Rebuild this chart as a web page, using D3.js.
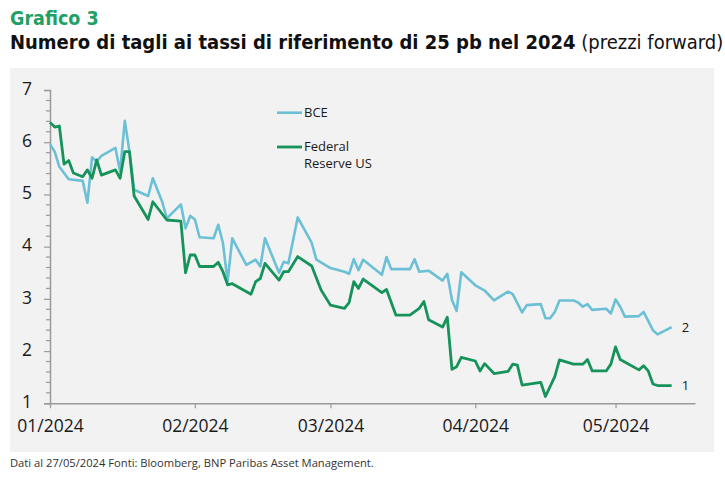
<!DOCTYPE html>
<html>
<head>
<meta charset="utf-8">
<script src="https://cdn.jsdelivr.net/npm/d3@7"></script>
<style>
  body { margin: 0; background: #fff; }
  svg { display: block; }
</style>
</head>
<body>
<main></main>
<script>
// data
const bceDates = ["2024-01-01","2024-01-02","2024-01-03","2024-01-05","2024-01-08","2024-01-09","2024-01-10","2024-01-11","2024-01-12","2024-01-15","2024-01-16","2024-01-17","2024-01-18","2024-01-19","2024-01-22","2024-01-23","2024-01-25","2024-01-26","2024-01-29","2024-01-30","2024-01-31","2024-02-01","2024-02-02","2024-02-05","2024-02-06","2024-02-07","2024-02-08","2024-02-09","2024-02-12","2024-02-14","2024-02-15","2024-02-16","2024-02-19","2024-02-20","2024-02-21","2024-02-23","2024-02-26","2024-02-27","2024-03-01","2024-03-04","2024-03-05","2024-03-06","2024-03-07","2024-03-08","2024-03-12","2024-03-13","2024-03-14","2024-03-18","2024-03-19","2024-03-20","2024-03-22","2024-03-25","2024-03-26","2024-03-27","2024-03-28","2024-03-29","2024-04-01","2024-04-03","2024-04-05","2024-04-08","2024-04-09","2024-04-11","2024-04-12","2024-04-15","2024-04-16","2024-04-17","2024-04-18","2024-04-19","2024-04-22","2024-04-23","2024-04-24","2024-04-25","2024-04-26","2024-04-29","2024-04-30","2024-05-01","2024-05-02","2024-05-03","2024-05-06","2024-05-07","2024-05-09","2024-05-10","2024-05-13"];
const bceValues = [5.96,5.82,5.53,5.29,5.26,4.84,5.71,5.63,5.74,5.89,5.44,6.41,5.82,5.09,4.97,5.31,4.86,4.54,4.81,4.35,4.59,4.52,4.18,4.16,4.42,4.07,3.33,4.16,3.65,3.75,3.62,4.16,3.50,3.71,3.68,4.56,4.07,3.75,3.59,3.52,3.48,3.76,3.55,3.75,3.46,3.80,3.57,3.57,3.76,3.52,3.54,3.35,3.48,2.98,2.77,3.51,3.26,3.16,2.97,3.14,3.09,2.74,2.88,2.90,2.63,2.63,2.75,2.97,2.97,2.93,2.85,2.90,2.79,2.81,2.72,2.99,2.85,2.66,2.67,2.75,2.40,2.32,2.46];

const fedDates = ["2024-01-01","2024-01-02","2024-01-03","2024-01-04","2024-01-05","2024-01-06","2024-01-08","2024-01-09","2024-01-10","2024-01-11","2024-01-12","2024-01-15","2024-01-16","2024-01-17","2024-01-18","2024-01-19","2024-01-22","2024-01-23","2024-01-26","2024-01-29","2024-01-30","2024-01-31","2024-02-01","2024-02-02","2024-02-05","2024-02-06","2024-02-07","2024-02-08","2024-02-09","2024-02-13","2024-02-14","2024-02-15","2024-02-16","2024-02-19","2024-02-20","2024-02-21","2024-02-23","2024-02-26","2024-02-28","2024-03-01","2024-03-04","2024-03-05","2024-03-06","2024-03-07","2024-03-08","2024-03-12","2024-03-13","2024-03-15","2024-03-18","2024-03-20","2024-03-21","2024-03-22","2024-03-25","2024-03-26","2024-03-27","2024-03-28","2024-03-29","2024-04-01","2024-04-02","2024-04-03","2024-04-05","2024-04-08","2024-04-09","2024-04-10","2024-04-11","2024-04-15","2024-04-16","2024-04-18","2024-04-19","2024-04-22","2024-04-24","2024-04-25","2024-04-26","2024-04-29","2024-04-30","2024-05-01","2024-05-02","2024-05-06","2024-05-07","2024-05-08","2024-05-09","2024-05-10","2024-05-13"];
const fedValues = [6.38,6.29,6.31,5.58,5.65,5.41,5.34,5.47,5.31,5.66,5.37,5.47,5.31,5.82,5.82,4.97,4.52,4.86,4.51,4.49,3.50,3.84,3.84,3.62,3.62,3.70,3.52,3.27,3.29,3.09,3.33,3.39,3.68,3.36,3.52,3.52,3.81,3.63,3.17,2.88,2.82,2.93,3.33,3.20,3.38,3.12,3.18,2.69,2.69,2.82,2.95,2.60,2.46,2.65,1.65,1.70,1.88,1.81,1.62,1.76,1.57,1.61,1.75,1.73,1.35,1.40,1.13,1.51,1.83,1.75,1.75,1.84,1.62,1.62,1.75,2.08,1.84,1.64,1.72,1.62,1.37,1.34,1.34];

const yTicks = [1, 2, 3, 4, 5, 6, 7];
const monthTicks = ["2024-01-01","2024-02-01","2024-03-01","2024-04-01","2024-05-01"];
const monthLabels = ["01/2024","02/2024","03/2024","04/2024","05/2024"];
const endLabels = ["2", "1"];

const parse = d3.timeParse("%Y-%m-%d");
const bce = bceDates.map((d, i) => ({date: parse(d), value: bceValues[i]}));
const fed = fedDates.map((d, i) => ({date: parse(d), value: fedValues[i]}));

const width = 725, height = 478;
const blue = "#6cc0d5", green = "#16935a";

const svg = d3.select("main").append("svg")
  .attr("width", width)
  .attr("height", height)
  .style("font-family", "'Open Sans', sans-serif");

// titles
svg.append("text")
  .attr("x", 10).attr("y", 25)
  .attr("fill", "#22a064")
  .style("font-family", "'DejaVu Sans Condensed', sans-serif")
  .style("font-weight", "bold")
  .style("font-size", "19.5px")
  .text("Grafico 3");

const sub = svg.append("text")
  .attr("x", 10).attr("y", 49)
  .attr("fill", "#111")
  .style("font-family", "'DejaVu Sans Condensed', sans-serif")
  .style("font-size", "20px");
sub.append("tspan").style("font-weight", "bold")
  .text("Numero di tagli ai tassi di riferimento di 25 pb nel 2024");
sub.append("tspan").text(" (prezzi forward)");

// panel
svg.append("rect")
  .attr("x", 10).attr("y", 68)
  .attr("width", 704).attr("height", 384)
  .attr("fill", "#f2f2f2");

const xScale = d3.scaleTime()
  .domain([parse("2024-01-01"), parse("2024-05-18")])
  .range([50, 695]);

const yScale = d3.scaleLinear()
  .domain([1, 7])
  .range([403.3, 90]);

// y axis
const yAxis = svg.append("g")
  .attr("transform", "translate(50,0)")
  .call(d3.axisLeft(yScale).tickValues(yTicks).tickFormat(d3.format("d")).tickSize(6).tickPadding(12));
yAxis.select(".domain").attr("stroke", "#9a9a9a").attr("stroke-width", 1.5);
yAxis.selectAll(".tick line").attr("stroke", "#9a9a9a").attr("stroke-width", 1.2);
yAxis.selectAll(".tick text")
  .attr("fill", "#1a1a1a")
  .attr("dy", "0.24em")
  .style("font-size", "17.5px")
  .style("font-family", "'Open Sans', sans-serif");

// minor ticks
const minor = d3.range(1, 7.001, 0.2).filter(v => Math.abs(v - Math.round(v)) > 0.01);
svg.append("g")
  .selectAll("line")
  .data(minor)
  .enter()
  .append("line")
  .attr("x1", 46).attr("x2", 50)
  .attr("y1", d => yScale(d)).attr("y2", d => yScale(d))
  .attr("stroke", "#9a9a9a")
  .attr("stroke-width", 1.2);

// x axis
const xAxis = svg.append("g")
  .attr("transform", "translate(0," + yScale(1) + ")")
  .call(d3.axisBottom(xScale)
    .tickValues(monthTicks.map(parse))
    .tickFormat((d, i) => monthLabels[i])
    .tickSize(5).tickPadding(11).tickSizeOuter(0));
xAxis.select(".domain").attr("stroke", "#9a9a9a").attr("stroke-width", 1.5);
xAxis.selectAll(".tick line").attr("stroke", "#9a9a9a").attr("stroke-width", 1.2);
xAxis.selectAll(".tick text")
  .attr("fill", "#1a1a1a")
  .style("font-size", "17.5px")
  .style("font-family", "'Open Sans', sans-serif");

// lines
const line = d3.line()
  .x(d => xScale(d.date))
  .y(d => yScale(d.value));

svg.append("path")
  .datum(bce)
  .attr("fill", "none")
  .attr("stroke", blue)
  .attr("stroke-width", 2.6)
  .attr("stroke-linejoin", "round")
  .attr("d", line);

svg.append("path")
  .datum(fed)
  .attr("fill", "none")
  .attr("stroke", green)
  .attr("stroke-width", 2.8)
  .attr("stroke-linejoin", "round")
  .attr("d", line);

// end labels
[bce, fed].forEach((s, i) => {
  const last = s[s.length - 1];
  svg.append("text")
    .attr("x", xScale(last.date) + 10)
    .attr("y", yScale(last.value))
    .attr("dy", "0.35em")
    .attr("fill", "#1a1a1a")
    .style("font-size", "13px")
    .text(endLabels[i]);
});

// legend
const legend = svg.append("g").style("font-size", "13px").attr("fill", "#1a1a1a");
legend.append("line")
  .attr("x1", 277).attr("x2", 302).attr("y1", 112.7).attr("y2", 112.7)
  .attr("stroke", blue).attr("stroke-width", 2.6);
legend.append("text").attr("x", 304).attr("y", 112.7).attr("dy", "0.35em").text("BCE");
legend.append("line")
  .attr("x1", 277).attr("x2", 302).attr("y1", 147).attr("y2", 147)
  .attr("stroke", green).attr("stroke-width", 2.8);
legend.append("text").attr("x", 304).attr("y", 146.5).attr("dy", "0.35em").text("Federal");
legend.append("text").attr("x", 304).attr("y", 163.5).attr("dy", "0.35em").text("Reserve US");

// footer
svg.append("text")
  .attr("x", 10).attr("y", 467)
  .attr("fill", "#333")
  .style("font-size", "11.2px")
  .text("Dati al 27/05/2024 Fonti: Bloomberg, BNP Paribas Asset Management.");
</script>
</body>
</html>
